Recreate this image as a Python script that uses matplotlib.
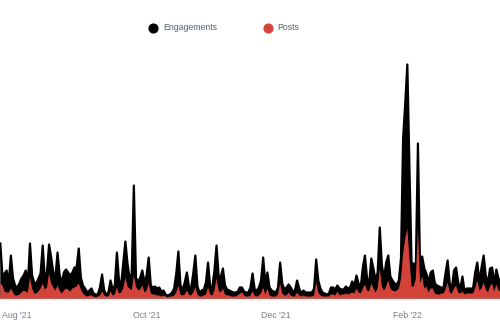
import matplotlib
matplotlib.use("Agg")
import matplotlib.pyplot as plt
import matplotlib.dates as mdates
from matplotlib.lines import Line2D
import numpy as np
import pandas as pd

start_date = "2021-07-24"

engagements = [
    55, 23, 25, 28, 16, 43, 20, 13, 11, 15, 20, 23, 28, 15, 55, 23, 16, 15, 20, 25,
    53, 20, 26, 54, 41, 26, 21, 46, 23, 16, 26, 29, 26, 23, 26, 31, 31, 50, 21, 13,
    10, 6, 8, 10, 5, 4, 4, 11, 24, 8, 4, 6, 18, 9, 13, 46, 18, 14, 35, 57,
    35, 20, 25, 113, 21, 16, 21, 28, 16, 23, 41, 13, 11, 12, 10, 11, 7, 8, 4, 3,
    4, 6, 10, 25, 47, 13, 9, 16, 26, 12, 10, 25, 43, 12, 6, 8, 9, 16, 36, 12,
    11, 28, 53, 23, 21, 30, 13, 9, 8, 7, 6, 6, 7, 11, 11, 7, 6, 6, 11, 25,
    9, 8, 11, 18, 41, 15, 26, 11, 8, 7, 6, 11, 36, 15, 9, 11, 14, 11, 7, 8,
    18, 10, 5, 8, 6, 6, 6, 6, 10, 39, 18, 10, 6, 5, 4, 5, 11, 11, 9, 13,
    10, 9, 9, 12, 10, 11, 17, 13, 23, 15, 11, 31, 43, 20, 15, 40, 30, 18, 26, 71,
    33, 20, 36, 43, 22, 18, 15, 14, 18, 40, 160, 195, 234, 130, 35, 35, 30, 155, 30, 42,
    30, 25, 16, 26, 28, 15, 13, 12, 11, 10, 25, 38, 15, 10, 28, 31, 16, 10, 22, 7,
    10, 10, 10, 10, 26, 36, 16, 31, 43, 23, 15, 30, 31, 15, 29, 20, 16,
]

posts = [
    15, 13, 7, 6, 6, 10, 6, 3, 3, 4, 6, 8, 7, 6, 21, 10, 5, 5, 7, 10,
    15, 9, 11, 25, 15, 11, 8, 13, 8, 5, 8, 10, 9, 7, 10, 11, 12, 15, 9, 5,
    3, 2, 3, 3, 2, 1, 2, 3, 7, 3, 2, 2, 7, 3, 4, 11, 5, 6, 10, 21,
    12, 10, 8, 23, 12, 8, 9, 13, 6, 8, 15, 5, 4, 4, 3, 3, 2, 3, 2, 1,
    2, 2, 3, 6, 13, 4, 3, 4, 8, 4, 3, 6, 11, 4, 2, 2, 3, 4, 11, 4,
    3, 8, 20, 8, 6, 10, 4, 3, 3, 2, 2, 2, 3, 5, 6, 3, 2, 2, 3, 7,
    3, 2, 3, 5, 11, 4, 10, 3, 2, 2, 2, 4, 15, 5, 3, 3, 6, 3, 2, 2,
    6, 3, 2, 3, 2, 2, 2, 2, 3, 16, 6, 3, 2, 2, 2, 2, 4, 4, 3, 7,
    3, 4, 4, 5, 4, 5, 6, 5, 10, 6, 5, 10, 14, 8, 7, 15, 10, 6, 10, 30,
    12, 8, 12, 18, 10, 8, 7, 8, 10, 20, 45, 60, 70, 40, 12, 12, 20, 70, 15, 22,
    10, 12, 6, 10, 10, 5, 4, 4, 5, 5, 9, 16, 6, 5, 10, 13, 6, 5, 7, 4,
    5, 5, 5, 5, 10, 18, 8, 10, 16, 9, 6, 12, 15, 7, 14, 8, 7,
]

series_names = ["Engagements", "Posts"]
tick_dates = ["2021-08-01", "2021-10-01", "2021-12-01", "2022-02-01"]

dates = pd.date_range(start_date, periods=len(engagements), freq="D")

BLACK = "#000000"
RED = "#d3433a"
TICK_COLOR = "#75808f"
LEGEND_COLOR = "#56626f"

plt.rcParams["font.family"] = ["Liberation Sans", "DejaVu Sans"]

fig = plt.figure(figsize=(5.0, 3.3), dpi=100)
ax = fig.add_axes([0.0, (330 - 298.5) / 330, 1.0, (298.5 - 45) / 330])

ax.fill_between(dates, 0, engagements, color=BLACK, linewidth=0, zorder=2)
ax.plot(dates, engagements, color=BLACK, linewidth=1.6, solid_joinstyle="round", zorder=2)
ax.fill_between(dates, 0, posts, color=RED, linewidth=0, zorder=3)

x0 = mdates.date2num(pd.Timestamp(start_date)) - 0.14
ax.set_xlim(x0, x0 + 500 / 2.12)
ax.set_ylim(0, 253.5)

ax.set_xticks([mdates.date2num(pd.Timestamp(t)) for t in tick_dates])
ax.xaxis.set_major_formatter(mdates.DateFormatter("%b '%y"))
ax.tick_params(axis="x", length=0, pad=9, labelsize=6.3, labelcolor=TICK_COLOR)
ax.set_yticks([])
for s in ["top", "right", "left"]:
    ax.spines[s].set_visible(False)
ax.spines["bottom"].set_color("#e3e3e3")
ax.spines["bottom"].set_linewidth(1.0)
ax.patch.set_alpha(0)

# legend
ly = 1 - 28 / 330
for name, col, mx, tx in [(series_names[0], BLACK, 153, 163), (series_names[1], RED, 268, 277)]:
    fig.add_artist(Line2D([mx / 500], [ly], marker="o", markersize=6.3, color=col,
                          linestyle="none", transform=fig.transFigure))
    fig.text(tx / 500, ly, name, va="center", ha="left", fontsize=6.3, color=LEGEND_COLOR)

fig.savefig("out.png", dpi=100)
